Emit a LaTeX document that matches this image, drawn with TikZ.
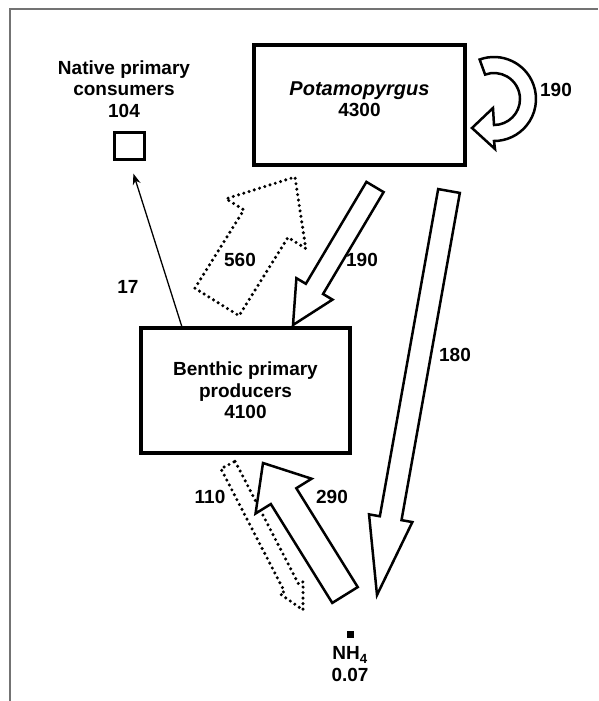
\documentclass[tikz,border=0pt]{standalone}
\usepackage{fontspec}
\setmainfont{Liberation Sans}
\usetikzlibrary{arrows.meta,calc,positioning}

\tikzset{
  pool/.style={draw, line width=3.5pt, fill=white, inner sep=0pt,
    font=\fontsize{19}{21.5}\selectfont\bfseries, align=center},
  poollabel/.style={font=\fontsize{19}{21.5}\selectfont\bfseries, align=center, inner sep=0pt},
  fluxlabel/.style={font=\fontsize{19}{21.5}\selectfont\bfseries, inner sep=0pt},
  flux/.style={draw, line width=2.5pt, line join=miter, fill=white},
  fluxdot/.style={draw, line width=3.4pt, line cap=round, dash pattern=on 0pt off 5.5pt},
  thinflux/.style={-{Stealth[length=11pt, width=8pt]}, line width=1.3pt},
  frame/.style={line width=1.2pt, black!55}
}

% block arrow: [style]{tail}{tip}{half shaft}{half head}{head length}
\newcommand{\fluxarrow}[6][flux]{%
  \coordinate (fx-base) at ($(#3)!#6!(#2)$);
  \draw[#1] ($(#2)!#4!90:(#3)$) -- ($(fx-base)!#4!90:(#3)$)
    -- ($(fx-base)!#5!90:(#3)$) -- (#3)
    -- ($(fx-base)!#5!-90:(#3)$) -- ($(fx-base)!#4!-90:(#3)$)
    -- ($(#2)!#4!-90:(#3)$) -- cycle;
}

\begin{document}
\begin{tikzpicture}[x=1pt, y=-1pt]
  \useasboundingbox (0,0) rectangle (598,701);
  \draw[frame] (10,701) -- (10,9) -- (598,9);

  % pools
  \node[pool, minimum width=211pt, minimum height=120pt] (pot) at (359.5,105) {};
  \node[poollabel] (potlbl) at (359.5,99)
    {{\fontsize{20}{22}\selectfont\bfseries\itshape Potamopyrgus}\\4300};
  \node[pool, minimum width=209pt, minimum height=125pt] (bpp) at (245.5,390.5)
    {Benthic primary\\producers\\4100};
  \node[poollabel] (npclbl) at (124,89) {Native primary\\consumers\\104};
  \node[draw, line width=3.5pt, minimum width=30pt, minimum height=27pt, inner sep=0pt] (npc) at (129.5,146) {};
  \node[fill, minimum size=7pt, inner sep=0pt] (nh4) at (350,634) {};
  \node[poollabel, below=9pt of nh4] (nh4lbl) {NH\textsubscript{4}\\0.07};

  % flux end points
  \coordinate (f190t) at (375,187);  \coordinate (f190h) at (293,325);
  \coordinate (f560t) at (217,302);  \coordinate (f560h) at (295,177);
  \coordinate (f180t) at (449,191);  \coordinate (f180h) at (377,595);
  \coordinate (f290t) at (345,595);  \coordinate (f290h) at (263,463);
  \coordinate (f110t) at (228,465);  \coordinate (f110h) at (303,610);

  \fluxarrow[fluxdot]{f560t}{f560h}{26pt}{47pt}{55pt}
  \fluxarrow{f190t}{f190h}{10pt}{21pt}{42pt}
  \fluxarrow{f180t}{f180h}{11pt}{22pt}{78pt}
  \fluxarrow[fluxdot]{f110t}{f110h}{8pt}{13pt}{25pt}
  \fluxarrow{f290t}{f290h}{15pt}{33pt}{39pt}

  % Potamopyrgus self loop
  \draw[flux] (494,99) ++(-110:42) arc[start angle=-110, end angle=90, radius=42]
    -- (495,149) -- (472,128) -- (493,108) -- (494,125)
    arc[start angle=90, end angle=-110, radius=26] -- cycle;

  \draw[thinflux, shorten >=13pt] ($(bpp.north west)!0.2!(bpp.north east)$) -- (npc.south);

  % flux labels
  \node[fluxlabel] (l190a) at (556,90) {190};
  \node[fluxlabel] (l190b) at (362,260) {190};
  \node[fluxlabel] (l560) at (240,260) {560};
  \node[fluxlabel] (l17) at (128,287) {17};
  \node[fluxlabel] (l180) at (455,355) {180};
  \node[fluxlabel] (l290) at (332,497) {290};
  \node[fluxlabel] (l110) at (210,497) {110};
\end{tikzpicture}
\end{document}
